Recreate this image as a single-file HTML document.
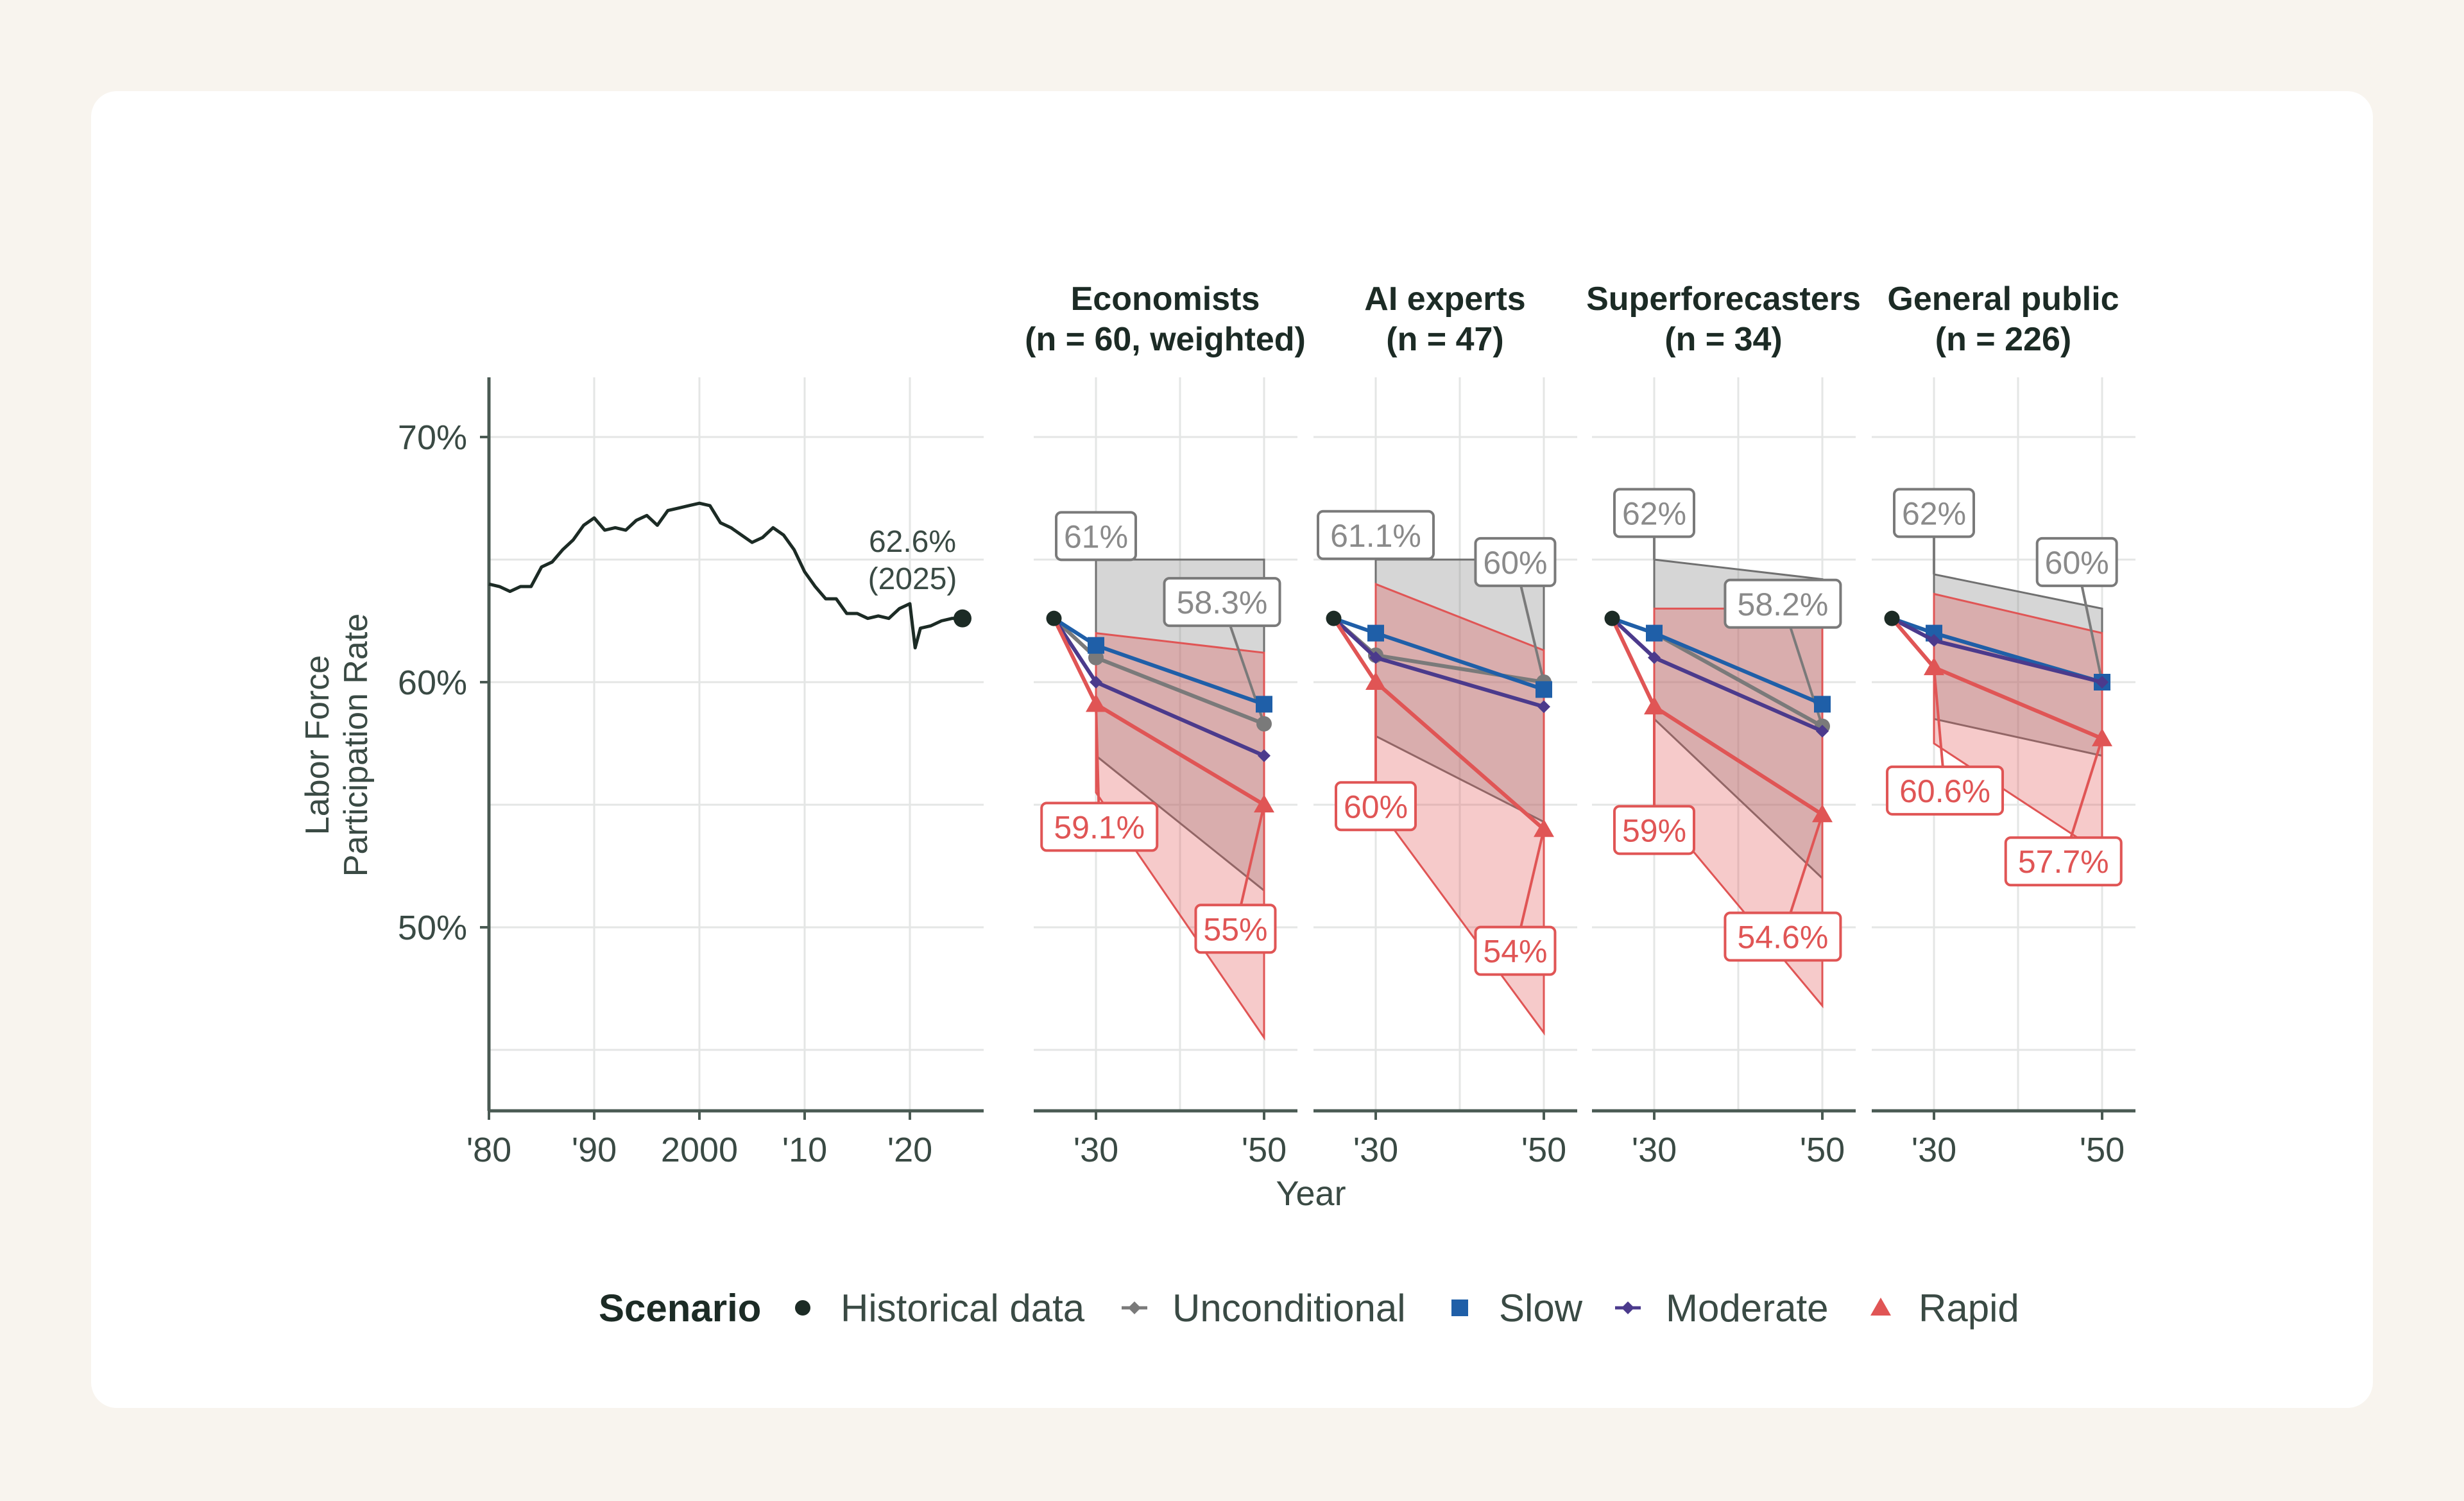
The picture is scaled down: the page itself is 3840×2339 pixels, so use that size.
<!DOCTYPE html>
<html><head><meta charset="utf-8">
<style>
html,body{margin:0;padding:0;background:#f8f4ee;}
body{width:3840px;height:2339px;position:relative;overflow:hidden;font-family:"Liberation Sans",sans-serif;}
#card{position:absolute;left:142px;top:142px;width:3556px;height:2052px;background:#fff;border-radius:40px;}
svg{position:absolute;left:0;top:0;}
</style></head>
<body>
<div id="card"></div>
<svg id="chart" width="3840" height="2339"></svg>
<script>
// ---- data ----
const histYears=[1980,1981,1982,1983,1984,1985,1986,1987,1988,1989,1990,1991,1992,1993,1994,1995,1996,1997,1998,1999,2000,2001,2002,2003,2004,2005,2006,2007,2008,2009,2010,2011,2012,2013,2014,2015,2016,2017,2018,2019,2020,2020.5,2021,2022,2023,2024,2025];
const histValues=[64.0,63.9,63.7,63.9,63.9,64.7,64.9,65.4,65.8,66.4,66.7,66.2,66.3,66.2,66.6,66.8,66.4,67.0,67.1,67.2,67.3,67.2,66.5,66.3,66.0,65.7,65.9,66.3,66.0,65.4,64.5,63.9,63.4,63.4,62.8,62.8,62.6,62.7,62.6,63.0,63.2,61.4,62.2,62.3,62.5,62.6,62.6];
const groups=["Economists","AI experts","Superforecasters","General public"];
const groupN=["(n = 60, weighted)","(n = 47)","(n = 34)","(n = 226)"];
const startValue=62.6;
const uncond2030=[61.0,61.1,62.0,62.0];
const uncond2050=[58.3,60.0,58.2,60.0];
const slow2030=[61.5,62.0,62.0,62.0];
const slow2050=[59.1,59.7,59.1,60.0];
const moderate2030=[60.0,61.0,61.0,61.7];
const moderate2050=[57.0,59.0,58.0,60.0];
const rapid2030=[59.1,60.0,59.0,60.6];
const rapid2050=[55.0,54.0,54.6,57.7];
const grayHi2030=[65.0,65.0,65.0,64.4];
const grayHi2050=[65.0,65.0,64.2,63.0];
const grayLo2030=[57.0,57.8,58.5,58.5];
const grayLo2050=[51.5,54.3,52.0,57.0];
const redHi2030=[62.0,64.0,63.0,63.6];
const redHi2050=[61.2,61.3,63.0,62.0];
const redLo2030=[55.5,55.0,55.0,57.5];
const redLo2050=[45.5,45.7,46.8,53.0];
const uncLbl30=["61%","61.1%","62%","62%"];
const uncLbl50=["58.3%","60%","58.2%","60%"];
const rapLbl30=["59.1%","60%","59%","60.6%"];
const rapLbl50=["55%","54%","54.6%","57.7%"];
// label anchor positions in data units (year, value)
const uncLbl30Pos=[[2030,65.96],[2030,66.0],[2030,66.9],[2030,66.9]];
const uncLbl50Pos=[[2045,63.27],[2046.6,64.9],[2045.3,63.2],[2047,64.9]];
const rapLbl30Pos=[[2030.4,54.1],[2030,54.94],[2030,53.97],[2031.3,55.58]];
const rapLbl50Pos=[[2046.6,49.94],[2046.6,49.04],[2045.3,49.62],[2045.4,52.69]];
const yTicks=[70,60,50];
const yGrid=[45,50,55,60,65,70];
const histTicks=[1980,1990,2000,2010,2020];
const histTickLbl=["'80","'90","2000","'10","'20"];
const facetTicks=[2030,2050];
const facetTickLbl=["'30","'50"];

// ---- scales ----
const Y=v=>1063-(v-60)*38.2;
const XH=y=>762+(y-1980)*16.4;
const lefts=[1611,2047,2481,2917];
const XF=(p,y)=>lefts[p]+97+(y-2030)*13.1;
const TOP=588,BOT=1731;
const NS="http://www.w3.org/2000/svg";
const svg=document.getElementById('chart');
function mk(tag,attrs,parent){const e=document.createElementNS(NS,tag);for(const k in attrs)e.setAttribute(k,attrs[k]);(parent||svg).appendChild(e);return e;}
const C={dark:"#1c2b25",axis:"#4a5a53",txt:"#3a4a44",grid:"#e4e6e5",gray:"#7a7a7a",blue:"#1f5fa8",purple:"#4b3a8c",red:"#e05555"};

for(const v of yGrid){const l=mk('line',{x1:762,x2:1533,y1:Y(v),y2:Y(v),stroke:C.grid,'stroke-width':3});
}
for(const t of histTicks){const l=mk('line',{x1:XH(t),x2:XH(t),y1:TOP,y2:BOT,stroke:C.grid,'stroke-width':3});
}
let ya=mk('line',{x1:762,x2:762,y1:TOP,y2:BOT,stroke:C.axis,'stroke-width':5});

let xa=mk('line',{x1:762,x2:1533,y1:BOT,y2:BOT,stroke:C.axis,'stroke-width':5});

yTicks.forEach(v=>{
  mk('line',{x1:748,x2:762,y1:Y(v),y2:Y(v),stroke:C.axis,'stroke-width':4});
  const t=mk('text',{x:728,y:Y(v)+19,'text-anchor':'end','font-size':54,fill:C.txt});t.textContent=v+'%';
  
});
histTicks.forEach((yr,i)=>{
  mk('line',{x1:XH(yr),x2:XH(yr),y1:BOT,y2:BOT+14,stroke:C.axis,'stroke-width':4});
  const t=mk('text',{x:XH(yr),y:1810,'text-anchor':'middle','font-size':54,fill:C.txt});t.textContent=histTickLbl[i];
  
});
const yt=mk('text',{transform:'translate(512,1161) rotate(-90)','text-anchor':'middle','font-size':52,fill:C.txt});

mk('tspan',{x:0,dy:0},yt).textContent='Labor Force';
mk('tspan',{x:0,dy:60},yt).textContent='Participation Rate';
const hp=mk('polyline',{points:histYears.map((y,i)=>XH(y)+','+Y(histValues[i])).join(' '),fill:'none',stroke:C.dark,'stroke-width':5,'stroke-linejoin':'round'});

const last=histValues.length-1;
const hd=mk('circle',{cx:XH(histYears[last]),cy:Y(histValues[last]),r:14,fill:C.dark});

const ha=mk('text',{x:1422,y:860,'text-anchor':'middle','font-size':48,fill:C.txt});

mk('tspan',{x:1422,dy:0},ha).textContent=histValues[last].toFixed(1)+'%';
mk('tspan',{x:1422,dy:58},ha).textContent='(2025)';

function marker(type,x,y,color,name){
  let e;
  if(type==='circle')e=mk('circle',{cx:x,cy:y,r:12,fill:color});
  else if(type==='square')e=mk('rect',{x:x-13,y:y-13,width:26,height:26,fill:color});
  else if(type==='diamond')e=mk('polygon',{points:`${x},${y-10} ${x+10},${y} ${x},${y+10} ${x-10},${y}`,fill:color});
  else e=mk('polygon',{points:`${x},${y-16} ${x+16},${y+12} ${x-16},${y+12}`,fill:color});
  
  return e;
}
function label(p,pos,txt,color,textColor,target){
  const x=XF(p,pos[0]),y=Y(pos[1]);
  const w=txt.length*28+40,h=74;
  const ln=mk('line',{x1:x,y1:y,x2:target[0],y2:target[1],stroke:color,'stroke-width':4});
  
  const r=mk('rect',{x:x-w/2,y:y-h/2,width:w,height:h,rx:8,fill:'#fff',stroke:color,'stroke-width':4});
  
  const t=mk('text',{x:x,y:y+18,'text-anchor':'middle','font-size':50,fill:textColor});t.textContent=txt;
  
}

for(let p=0;p<4;p++){
  const L=lefts[p],R=L+411;
  for(const v of yGrid){const l=mk('line',{x1:L,x2:R,y1:Y(v),y2:Y(v),stroke:C.grid,'stroke-width':3});
  }
  for(const yr of [2030,2040,2050]){const l=mk('line',{x1:XF(p,yr),x2:XF(p,yr),y1:TOP,y2:BOT,stroke:C.grid,'stroke-width':3});
  }
  const ax=mk('line',{x1:L,x2:R,y1:BOT,y2:BOT,stroke:C.axis,'stroke-width':5});
  
  facetTicks.forEach((yr,i)=>{
    mk('line',{x1:XF(p,yr),x2:XF(p,yr),y1:BOT,y2:BOT+14,stroke:C.axis,'stroke-width':4});
    const t=mk('text',{x:XF(p,yr),y:1810,'text-anchor':'middle','font-size':54,fill:C.txt});t.textContent=facetTickLbl[i];
    
  });
  const cx=L+205;
  const ft=mk('text',{x:cx,y:483,'text-anchor':'middle','font-size':52,'font-weight':'bold',fill:C.dark});ft.textContent=groups[p];
  
  const fn=mk('text',{x:cx,y:546,'text-anchor':'middle','font-size':52,'font-weight':'bold',fill:C.dark});fn.textContent=groupN[p];
  
  const x30=XF(p,2030),x50=XF(p,2050),x25=XF(p,2025);
  const gb=mk('polygon',{points:`${x30},${Y(grayHi2030[p])} ${x50},${Y(grayHi2050[p])} ${x50},${Y(grayLo2050[p])} ${x30},${Y(grayLo2030[p])}`,fill:'rgba(130,130,130,0.33)',stroke:'#707070','stroke-width':3});
  
  const rb=mk('polygon',{points:`${x30},${Y(redHi2030[p])} ${x50},${Y(redHi2050[p])} ${x50},${Y(redLo2050[p])} ${x30},${Y(redLo2030[p])}`,fill:'rgba(225,80,80,0.3)',stroke:C.red,'stroke-width':3});
  
  const series=[[uncond2030,uncond2050,C.gray,'circle','unconditional'],[slow2030,slow2050,C.blue,'square','slow'],[moderate2030,moderate2050,C.purple,'diamond','moderate'],[rapid2030,rapid2050,C.red,'triangle','rapid']];
  label(p,uncLbl30Pos[p],uncLbl30[p],'#7a7a7a','#8a8a8a',[x30,Y(grayHi2030[p])]);
  label(p,uncLbl50Pos[p],uncLbl50[p],'#7a7a7a','#8a8a8a',[x50,Y(uncond2050[p])]);
  label(p,rapLbl30Pos[p],rapLbl30[p],C.red,C.red,[x30,Y(rapid2030[p])]);
  label(p,rapLbl50Pos[p],rapLbl50[p],C.red,C.red,[x50,Y(rapid2050[p])]);
  series.forEach(s=>{
    const pl=mk('polyline',{points:`${x25},${Y(startValue)} ${x30},${Y(s[0][p])} ${x50},${Y(s[1][p])}`,fill:'none',stroke:s[2],'stroke-width':6});
    
    marker(s[3],x30,Y(s[0][p]),s[2],s[4]+'-point-2030');
    marker(s[3],x50,Y(s[1][p]),s[2],s[4]+'-point-2050');
  });
  marker('circle',x25,Y(startValue),C.dark,'start-point');
}
const xt=mk('text',{x:2043,y:1878,'text-anchor':'middle','font-size':54,fill:C.txt});xt.textContent='Year';


const lg=mk('g',{});

const lt=mk('text',{x:933,y:2059,'font-size':60,'font-weight':'bold',fill:C.dark},lg);lt.textContent='Scenario';

const legItems=[[1251,'circle',C.dark,1310,'Historical data'],[1768,'diamond',C.gray,1827,'Unconditional'],[2275,'square',C.blue,2336,'Slow'],[2537,'diamond',C.purple,2596,'Moderate'],[2931,'triangle',C.red,2990,'Rapid']];
legItems.forEach(it=>{
  if(it[1]==='diamond'){const l=mk('line',{x1:it[0]-20,x2:it[0]+20,y1:2038,y2:2038,stroke:it[2],'stroke-width':5},lg);}
  marker(it[1],it[0],2038,it[2],'legend-marker');
  const t=mk('text',{x:it[3],y:2059,'font-size':60,fill:C.txt},lg);t.textContent=it[4];
  
});
</script>
</body></html>
